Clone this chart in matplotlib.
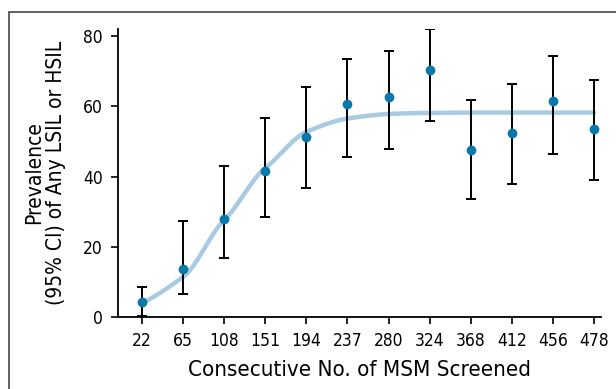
import numpy as np
import matplotlib
matplotlib.use('Agg')
import matplotlib.pyplot as plt
from matplotlib.patches import Rectangle
from matplotlib import font_manager

# look for a condensed face, the original uses a narrow sans
narrow = None
for f in font_manager.fontManager.ttflist:
    if f.style == 'normal' and f.weight in (400, 'normal', 'regular') and \
       ('Narrow' in f.name or f.stretch in ('condensed', 'semi-condensed')):
        narrow = f
        break
if narrow is not None:
    font_manager.fontManager.addfont(narrow.fname)
    plt.rcParams['font.family'] = [narrow.name, 'DejaVu Sans']
    if narrow.stretch != 'normal':
        plt.rcParams['font.stretch'] = narrow.stretch
    xl, yl, small = 16, 15, 12.5
else:
    plt.rcParams['font.family'] = ['Roboto', 'DejaVu Sans']
    xl, yl, small = 15, 14, 11

# data
screened = ['22', '65', '108', '151', '194', '237', '280', '324', '368', '412', '456', '478']
prevalence = [4.3, 13.6, 27.9, 41.6, 51.2, 60.6, 62.7, 70.3, 47.5, 52.3, 61.5, 53.5]
ci_low = [0.3, 6.5, 16.8, 28.4, 36.7, 45.6, 47.8, 55.8, 33.6, 37.9, 46.4, 39.0]
ci_high = [8.5, 27.3, 43.0, 56.6, 65.4, 73.5, 75.7, 82.0, 61.8, 66.3, 74.3, 67.5]
fitted = [4.0, 11.4, 27.6, 42.4, 52.7, 56.5, 57.8, 58.1, 58.2, 58.2, 58.2, 58.2]

x = np.arange(len(screened))
prev = np.array(prevalence)
yerr = [prev - np.array(ci_low), np.array(ci_high) - prev]

# smooth the fitted line (cubic hermite through the fitted values)
f = np.array(fitted)
m = np.gradient(f) * 0.7
xs, ys = [], []
for i in range(len(f) - 1):
    t = np.linspace(0, 1, 20)
    h00 = 2*t**3 - 3*t**2 + 1
    h10 = t**3 - 2*t**2 + t
    h01 = -2*t**3 + 3*t**2
    h11 = t**3 - t**2
    xs.append(i + t)
    ys.append(h00*f[i] + h10*m[i] + h01*f[i+1] + h11*m[i+1])
xs = np.concatenate(xs)
ys = np.concatenate(ys)

fig = plt.figure(figsize=(6.16, 3.89), dpi=100)
ax = fig.add_axes([118/616, 72/389, 483/616, 288/389])

ax.plot(xs, ys, color='#a9cbe2', lw=3.2, solid_capstyle='round', zorder=1)
ax.errorbar(x, prev, yerr=yerr, fmt='none', ecolor='black', elinewidth=1.4,
            capsize=3.5, capthick=1.4, zorder=2)
ax.plot(x, prev, 'o', color='#0a78aa', ms=6, zorder=3)

ax.set_xlim(-0.584, 11.17)
ax.set_ylim(0, 82)
ax.set_xticks(x)
ax.set_xticklabels(screened)
ax.set_yticks([0, 20, 40, 60, 80])
ax.tick_params(direction='out', length=5, width=1.2, labelsize=small, pad=6)
ax.spines['top'].set_visible(False)
ax.spines['right'].set_visible(False)
ax.spines['left'].set_linewidth(1.3)
ax.spines['bottom'].set_linewidth(1.3)

ax.set_xlabel('Consecutive No. of MSM Screened', fontsize=xl, labelpad=7)
ax.set_ylabel('Prevalence\n(95% CI) of Any LSIL or HSIL', fontsize=yl,
              linespacing=1.1)
ax.yaxis.set_label_coords(-0.108, 0.5)

# frame around the figure
fig.patches.append(Rectangle((9/616, -0.1), 1.0, 1.1 - 12/389, transform=fig.transFigure,
                             fill=False, edgecolor='#444444', lw=1.2))

fig.savefig('out.png', dpi=100)
